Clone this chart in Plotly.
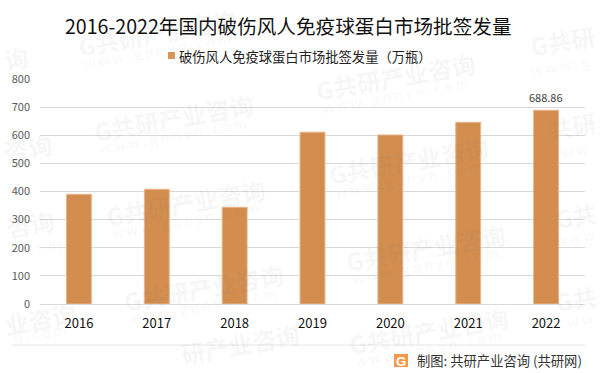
import plotly.graph_objects as go

years = ["2016", "2017", "2018", "2019", "2020", "2021", "2022"]
values = [390, 408, 344, 611, 601, 646, 688.86]
y_ticks = [0, 100, 200, 300, 400, 500, 600, 700, 800]
title_text = "2016-2022年国内破伤风人免疫球蛋白市场批签发量"
series_name = "破伤风人免疫球蛋白市场批签发量（万瓶）"
source_text = "制图: 共研产业咨询 (共研网)"
wm_brand = "G共研产业咨询"
wm_site = "w w w . g o n y n . c o m"
wm_full = [(157, 32), (173, 117), (185, 202), (203, 287), (428, 330), (425, 247), (408, 160), (395, 77)]
wm_partial = [("询", 16, 57), ("咨询", 28, 147), ("咨询", 30, 223), ("业咨询", 40, 318),
              ("G共研", 562, 40), ("共研", 572, 125), ("G共", 575, 215), ("G共", 575, 298),
              ("研产业咨询", 240, 343)]
wm_site_partial = [(". c o m", 40, 247), ("n . c o m", 40, 333), ("w w w . g", 560, 65),
                   ("w w", 575, 150), ("w w w", 575, 237), ("w w", 580, 320)]
CJK = "Noto Sans CJK SC"
W, H = 601, 373
L, T, PW, PH = 40, 79, 545, 225


def px(x):
    return (x - L) / PW


def py(y):
    return 1 - (y - T) / PH


fig = go.Figure(go.Bar(
    x=years, y=values, name=series_name, cliponaxis=False,
    marker=dict(color="#d28d4f", line=dict(color="#e8b78c", width=1)), showlegend=False,
))

WM = "rgba(120,120,120,0.07)"
annotations = []
for text, cx, cy in [(wm_brand, c[0], c[1]) for c in wm_full] + wm_partial:
    annotations.append(dict(x=px(cx), y=py(cy), xref="paper", yref="paper", text=text, showarrow=False,
                            xanchor="center", yanchor="middle", textangle=-10,
                            font=dict(size=24, color=WM, family=CJK, weight="bold")))
for text, cx, cy in [(wm_site, c[0], c[1] + 18) for c in wm_full] + wm_site_partial:
    annotations.append(dict(x=px(cx), y=py(cy), xref="paper", yref="paper", text=text, showarrow=False,
                            xanchor="center", yanchor="middle", textangle=-10,
                            font=dict(size=14, color=WM, family=CJK)))
annotations.append(dict(x=len(years) - 1, y=values[-1], xref="x", yref="y", text=f"{values[-1]:.2f}",
                        showarrow=False, yanchor="bottom", yshift=3,
                        font=dict(size=11, color="#404040", family=CJK)))
annotations.append(dict(x=px(177), y=py(56), xref="paper", yref="paper", xanchor="left", yanchor="middle",
                        text=series_name, showarrow=False,
                        font=dict(size=13.3, color="#222222", family=CJK)))
annotations.append(dict(x=px(415), y=py(360), xref="paper", yref="paper", xanchor="left", yanchor="middle",
                        text=source_text, showarrow=False, font=dict(size=13.3, color="#333333", family=CJK)))
annotations.append(dict(x=px(401), y=py(361), xref="paper", yref="paper", xanchor="center", yanchor="middle",
                        text="<b>G</b>", showarrow=False,
                        font=dict(size=13, color="white", family="Liberation Sans")))

shapes = [
    dict(type="line", xref="paper", yref="paper", x0=px(12), x1=px(585), y0=py(345), y1=py(345),
         line=dict(color="#e6e6e6", width=1)),
    dict(type="rect", xref="paper", yref="paper", x0=px(394), x1=px(408), y0=py(367), y1=py(354),
         fillcolor="#f49a4c", line=dict(width=0)),
    dict(type="rect", xref="paper", yref="paper", x0=px(168), x1=px(175), y0=py(59), y1=py(52),
         fillcolor="#d9955a", line=dict(width=0)),
]

fig.update_layout(
    width=W, height=H, autosize=False, paper_bgcolor="white", plot_bgcolor="rgba(0,0,0,0)",
    margin=dict(l=L, r=W - L - PW, t=T, b=H - T - PH), bargap=0.68, annotations=annotations, shapes=shapes,
    title=dict(text=title_text, x=65 / W, xanchor="left", y=1 - 27 / H, yanchor="middle",
               font=dict(size=19.6, color="#111111", family=CJK)),
    xaxis=dict(type="category", range=[-0.5, len(years) - 0.5],
               tickfont=dict(size=13, color="#111111", family=CJK), showgrid=False, ticks="",
               showline=True, linecolor="#d9d9d9", linewidth=1, ticklabelstandoff=7),
    yaxis=dict(range=[0, 800], tickvals=y_ticks, tickfont=dict(size=11, color="#595959", family=CJK),
               gridcolor="#d9d9d9", gridwidth=1, zeroline=False, ticks="", ticklabelstandoff=9),
)
fig.write_html("out.html", config={"displayModeBar": False},
               post_script="document.body.style.margin='0';")
